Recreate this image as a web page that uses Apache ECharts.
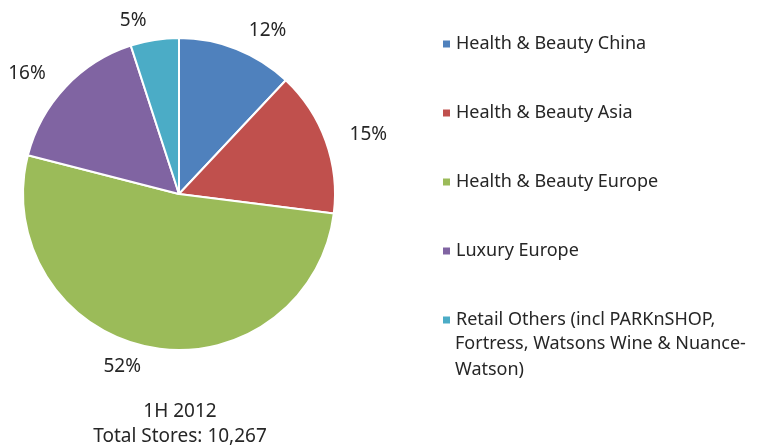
<!DOCTYPE html>
<html>
<head>
<meta charset="utf-8">
<script src="https://cdn.jsdelivr.net/npm/echarts@6/dist/echarts.min.js"></script>
<style>html,body{margin:0;padding:0;background:#fff}#c{width:758px;height:448px}</style>
</head>
<body>
<div id="c"></div>
<script>
var categories = ["Health & Beauty China", "Health & Beauty Asia", "Health & Beauty Europe", "Luxury Europe", "Retail Others (incl PARKnSHOP, Fortress, Watsons Wine & Nuance-Watson)"];
var legendFirstLines = ["Health & Beauty China", "Health & Beauty Asia", "Health & Beauty Europe", "Luxury Europe", "Retail Others (incl PARKnSHOP,"];
var legendExtra = "Fortress, Watsons Wine & Nuance-\nWatson)";
var values = [12, 15, 52, 16, 5];
var colors = ["#4F81BD", "#C0504D", "#9BBB59", "#8064A2", "#4BACC6"];
var titleLines = ["1H 2012", "Total Stores: 10,267"];

var FONT = "Noto Sans";
var TXT = "#262626";
var chart = echarts.init(document.getElementById('c'));
chart.setOption({
  animation: false,
  color: colors,
  title: {
    text: titleLines.join("\n"),
    left: 175, top: 394, textAlign: 'center',
    textStyle: {fontFamily: FONT, fontSize: 19, fontWeight: 'normal', color: TXT, lineHeight: 25}
  },
  legend: {
    orient: 'vertical', left: 436, top: 26,
    icon: 'rect', itemWidth: 9, itemHeight: 9, itemGap: 43,
    data: categories,
    formatter: function (n) { return legendFirstLines[categories.indexOf(n)]; },
    textStyle: {fontFamily: FONT, fontSize: 18, color: TXT, lineHeight: 26}
  },
  graphic: [{
    type: 'text', left: 455, top: 331,
    style: {text: legendExtra, fontFamily: FONT, fontSize: 18, fill: TXT, lineHeight: 26}
  }],
  series: [{
    type: 'pie',
    center: [179, 194], radius: 156,
    startAngle: 90, clockwise: true,
    itemStyle: {borderColor: '#fff', borderWidth: 2},
    label: {
      show: true, position: 'outside', overflow: 'none', edgeDistance: 0,
      formatter: '{c}%',
      fontFamily: FONT, fontSize: 19, color: TXT
    },
    labelLine: {show: false, length: 20, length2: 0},
    data: categories.map(function (c, i) { return {name: c, value: values[i]}; })
  }]
});
</script>
</body>
</html>
